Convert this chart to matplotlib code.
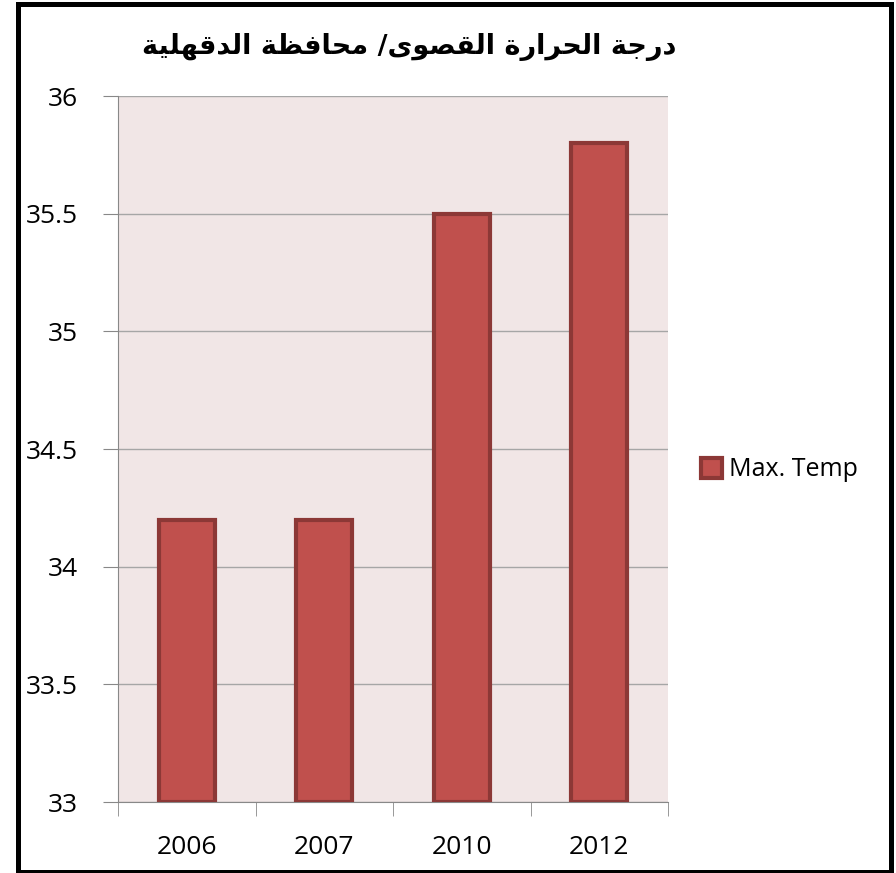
import numpy as np
import matplotlib.pyplot as plt
from matplotlib.patches import Rectangle

# data
years = ['2006', '2007', '2010', '2012']
max_temp = [34.2, 34.2, 35.5, 35.8]
series_name = 'Max. Temp'
title_ar = 'درجة الحرارة القصوى/ محافظة الدقهلية'

# simple arabic shaping (no reshaper available): base codepoint of the
# presentation form (isolated), and whether the letter joins on both sides
forms = {
    'ا': (0xFE8D, False), 'ة': (0xFE93, False), 'ج': (0xFE9D, True),
    'ح': (0xFEA1, True), 'د': (0xFEA9, False), 'ر': (0xFEAD, False),
    'ص': (0xFEB9, True), 'ظ': (0xFEC5, True), 'ف': (0xFED1, True),
    'ق': (0xFED5, True), 'ل': (0xFEDD, True), 'م': (0xFEE1, True),
    'ه': (0xFEE9, True), 'و': (0xFEED, False), 'ى': (0xFEEF, False),
    'ي': (0xFEF1, True),
}


def shape(txt):
    out = []
    for i, ch in enumerate(txt):
        if ch not in forms:
            out.append(ch)
            continue
        base, dual = forms[ch]
        prev = txt[i - 1] if i > 0 else ''
        nxt = txt[i + 1] if i + 1 < len(txt) else ''
        join_prev = prev in forms and forms[prev][1]
        join_next = dual and nxt in forms
        if join_prev and join_next:
            off = 3
        elif join_prev:
            off = 1
        elif join_next:
            off = 2
        else:
            off = 0
        out.append(chr(base + off))
    return ''.join(out)[::-1]


plt.rcParams['font.family'] = ['Open Sans', 'DejaVu Sans']

fig = plt.figure(figsize=(8.96, 8.73), dpi=100)
W, H = 896, 873
ax = fig.add_axes([118 / W, 1 - 802 / H, (668 - 118) / W, (802 - 96) / H])
ax.set_facecolor('#F1E6E6')

x = np.arange(len(years))
ax.bar(x, [v - 33 for v in max_temp], bottom=33, width=0.41,
       color='#C0504D', edgecolor='#8C3836', linewidth=3, label=series_name,
       zorder=3)

ax.set_xlim(-0.5, len(years) - 0.5)
ax.set_ylim(33, 36)
ax.set_yticks(np.arange(33, 36.01, 0.5))
ax.set_yticklabels(['33', '33.5', '34', '34.5', '35', '35.5', '36'])
ax.yaxis.grid(True, color='#A6A6A6', linewidth=1, zorder=0)
ax.set_axisbelow(True)

ax.set_xticks(x)
ax.set_xticklabels(years)
ax.set_xticks(np.arange(-0.5, len(years)), minor=True)
ax.tick_params(axis='x', which='major', length=0, pad=24, labelsize=19)
ax.tick_params(axis='x', which='minor', length=10, color='#888888')
ax.tick_params(axis='y', length=11, color='#888888', pad=18, labelsize=19)

for s in ['top', 'right']:
    ax.spines[s].set_visible(False)
ax.spines['left'].set_color('#888888')
ax.spines['bottom'].set_color('#888888')

fig.text(409 / W, 1 - 47 / H, shape(title_ar), ha='center', va='center',
         fontsize=19.5, fontweight='bold', family='DejaVu Sans')

ax.legend(loc='center left', bbox_to_anchor=(678 / W, 1 - 470 / H),
          bbox_transform=fig.transFigure, frameon=False, fontsize=18,
          handlelength=0.85, handleheight=0.85, handletextpad=0.3)

fig.patches.append(Rectangle((17.5 / W, 1.5 / H), (891 - 17.5) / W,
                             (871.5 - 3.5) / H,
                             transform=fig.transFigure, fill=False,
                             edgecolor='black', linewidth=3.6))

fig.savefig('out.png', dpi=100)
